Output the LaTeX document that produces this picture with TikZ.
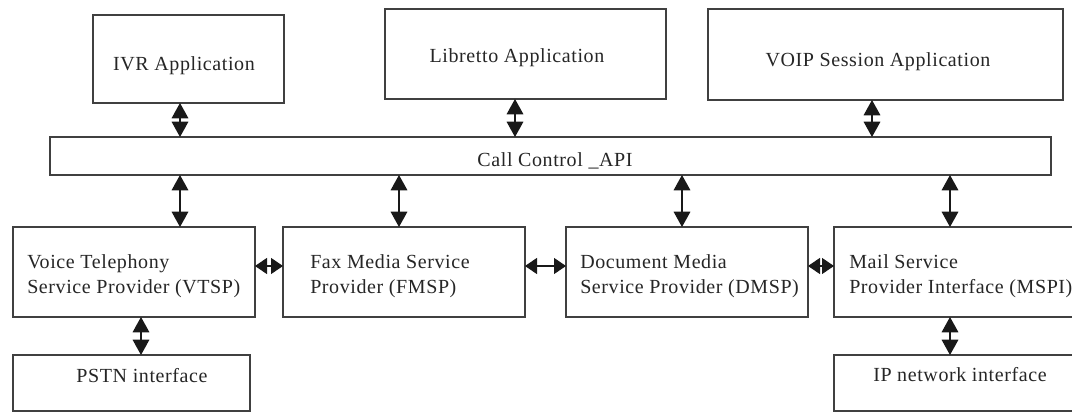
\documentclass[tikz,border=0pt]{standalone}
\usepackage{fontspec}
\setmainfont[LetterSpace=3]{Liberation Serif}
\usetikzlibrary{arrows.meta}
\begin{document}
\begin{tikzpicture}[x=0.75pt,y=-0.75pt,
  box/.style={draw=black!75, line width=1.1pt, inner sep=0pt, outer sep=0pt},
  txt/.style={font=\fontsize{15pt}{18.75pt}\selectfont, text=black!85, inner sep=0pt, align=left},
  dbl/.style={{Triangle[length=11.5pt,width=12.5pt]}-{Triangle[length=11.5pt,width=12.5pt]}, line width=0.9pt, draw=black!90, fill=black!90},
  dblh/.style={{Triangle[length=9pt,width=12pt]}-{Triangle[length=9pt,width=12pt]}, line width=0.9pt, draw=black!90, fill=black!90}]
\useasboundingbox (0,0) rectangle (1072,413);
\clip (0,0) rectangle (1072,413);
\fill[white] (0,0) rectangle (1072,413);

% boxes
\node[box, minimum width=143.25pt, minimum height=66pt]   (ivr)  at (188.5,59) {};
\node[box, minimum width=210.75pt, minimum height=67.5pt] (lib)  at (525.5,54) {};
\node[box, minimum width=266.25pt, minimum height=68.25pt](voip) at (885.5,54.5) {};
\node[box, minimum width=750.75pt, minimum height=28.5pt] (bar)  at (550.5,156) {};
\node[box, minimum width=181.5pt, minimum height=67.5pt]  (vtsp) at (134,272) {};
\node[box, minimum width=181.5pt, minimum height=67.5pt]  (fmsp) at (404,272) {};
\node[box, minimum width=181.5pt, minimum height=67.5pt]  (dmsp) at (687,272) {};
\node[box, minimum width=192pt, minimum height=67.5pt]    (mspi) at (962,272) {};
\node[box, minimum width=177.75pt, minimum height=42pt]   (pstn) at (131.5,383) {};
\node[box, minimum width=192pt, minimum height=42pt]      (ip)   at (962,383) {};

% texts
\node[txt, anchor=base] (ivrT)  at (184,71) {IVR Application};
\node[txt, anchor=base] (libT)  at (517,63) {Libretto Application};
\node[txt, anchor=base] (voipT) at (878,67) {VOIP Session Application};
\node[txt, anchor=base] (barT)  at (555,167) {Call Control \_API};
\node[txt, anchor=north west] (vtspT) at (27,254) {Voice Telephony\\Service Provider (VTSP)};
\node[txt, anchor=north west] (fmspT) at (310,254) {Fax Media Service\\Provider (FMSP)};
\node[txt, anchor=north west] (dmspT) at (580,254) {Document Media\\Service Provider (DMSP)};
\node[txt, anchor=north west] (mspiT) at (849,254) {Mail Service\\Provider Interface (MSPI)};
\node[txt, anchor=base] (pstnT) at (142,383) {PSTN interface};
\node[txt, anchor=base] (ipT)   at (960,382) {IP network interface};

% connector guides
\coordinate (c1) at (180,0);
\coordinate (c2) at (515,0);
\coordinate (c3) at (872,0);
\coordinate (c4) at (399,0);
\coordinate (c5) at (682,0);
\coordinate (c6) at (950,0);
\coordinate (c7) at (141,0);
\coordinate (h)  at (0,266);

% connectors
\draw[dbl] (ivr.south -| c1) -- (bar.north -| c1);
\draw[dbl] (lib.south -| c2) -- (bar.north -| c2);
\draw[dbl] (voip.south -| c3) -- (bar.north -| c3);
\draw[dbl] (bar.south -| c1) -- (vtsp.north -| c1);
\draw[dbl] (bar.south -| c4) -- (fmsp.north -| c4);
\draw[dbl] (bar.south -| c5) -- (dmsp.north -| c5);
\draw[dbl] (bar.south -| c6) -- (mspi.north -| c6);
\draw[dbl] (vtsp.south -| c7) -- (pstn.north -| c7);
\draw[dbl] (mspi.south -| c6) -- (ip.north -| c6);
\draw[dblh] (vtsp.east |- h) -- (fmsp.west |- h);
\draw[dblh] (fmsp.east |- h) -- (dmsp.west |- h);
\draw[dblh] (dmsp.east |- h) -- (mspi.west |- h);
\end{tikzpicture}
\end{document}
